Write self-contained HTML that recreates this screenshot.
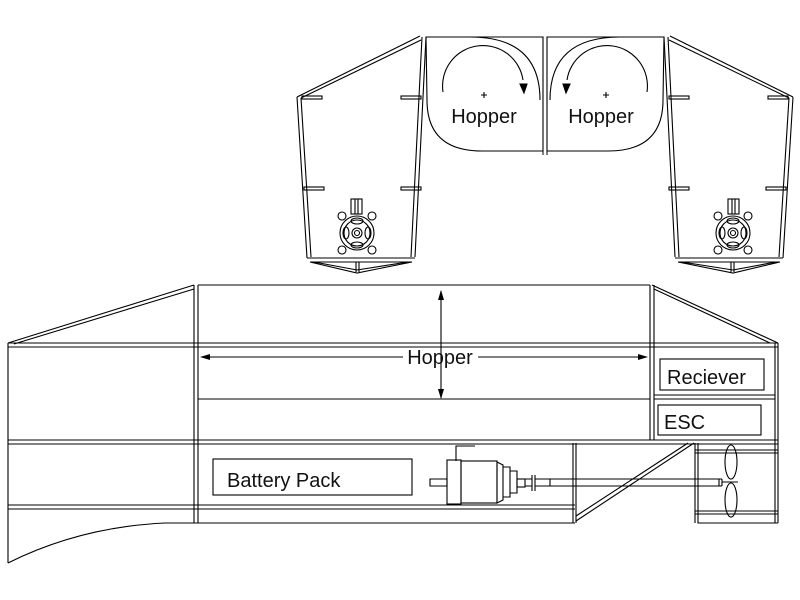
<!DOCTYPE html>
<html><head><meta charset="utf-8"><style>body{margin:0;background:#fff}svg{display:block}text{font-family:"Liberation Sans",sans-serif;fill:#111}</style></head><body>
<svg width="800" height="600" viewBox="0 0 800 600" xmlns="http://www.w3.org/2000/svg">
<defs>
<g id="pod" fill="none" stroke="#000" stroke-width="1.1">
  <path d="M297,97 L420,36 M301,98 L421,40"/>
  <path d="M297,97 L307,258 M301,98 L311,257"/>
  <path d="M422,37 L411,257 M426,37 L415,257"/>
  <path d="M307,258 L415,258 M310,262 L412,262"/>
  <path d="M310,262 L357,273 L412,262 M314,262 L357,270 L408,262"/>
  <path d="M356,262 V272 M359,262 V272"/>
  <rect x="302" y="96" width="20" height="3"/><rect x="401" y="96" width="20" height="3"/>
  <rect x="304" y="187" width="20" height="3"/><rect x="401" y="187" width="20" height="3"/>
  <circle cx="357" cy="233" r="17"/><circle cx="357" cy="233" r="13"/>
  <circle cx="357" cy="233" r="5"/><circle cx="357" cy="233" r="2.5"/>
  <circle cx="342" cy="216" r="4"/><circle cx="372" cy="216" r="4"/><circle cx="342" cy="250" r="4"/><circle cx="372" cy="250" r="4"/>
  <rect x="351" y="199" width="11" height="15"/><path d="M355,199V214M358,199V214"/>
  <ellipse cx="357" cy="221" rx="6" ry="3"/><ellipse cx="357" cy="245" rx="6" ry="3"/>
  <ellipse cx="346" cy="233" rx="3" ry="6"/><ellipse cx="368" cy="233" rx="3" ry="6"/>
  <path d="M426,37 H543 V151 H482 Q427,151 427,100 Z" />
  <path d="M470,37 Q540,37 540,100"/>
  <path d="M443,92 A40,40 0 0 1 523,80"/>
  <path d="M520,84 L527,84 L524,93 Z" fill="#000"/>
  <path d="M481,95 H487 M484,92 V98" />
</g>
</defs>
<use href="#pod"/>
<use href="#pod" transform="translate(1090,0) scale(-1,1)"/>
<path d="M543,37 V155 M547,37 V155" stroke="#000" fill="none"/>
<text x="484" y="123" font-size="20" text-anchor="middle">Hopper</text>
<text x="601" y="123" font-size="20" text-anchor="middle">Hopper</text>

<g fill="none" stroke="#000" stroke-width="1.1">
  <path d="M8,343 L194,285 M14,344 L194,289"/>
  <path d="M8,343 V563"/>
  <path d="M8,563 Q80,527 165,523 H575"/>
  <path d="M194,285 V523 M198,285 V523"/>
  <path d="M198,285 H650"/>
  <path d="M8,343 H778 M8,347 H778"/>
  <path d="M198,399 H650"/>
  <path d="M8,440 H778 M8,444 H778"/>
  <path d="M8,505 H575 M8,509 H575"/>
  <path d="M650,285 V440 M654,285 V440"/>
  <path d="M652,285 L778,343 M654,289 L770,343"/>
  <path d="M654,395 H775 M654,399 H775"/>
  <path d="M775,343 V523 M778,343 V523"/>
  <rect x="660" y="359" width="104" height="31"/>
  <rect x="658" y="405" width="103" height="30"/>
  <rect x="213" y="459" width="199" height="36"/>
  <path d="M573,443 V523 M576,443 V523"/>
  <path d="M576,521 L694,443 M576,516 L688,443"/>
  <path d="M695,443 V523 M698,443 V523 H778 M695,450 H778 M695,453 H778 M695,511 H778 M695,514 H778"/>
  <ellipse cx="731" cy="462" rx="6" ry="17"/><ellipse cx="731" cy="500" rx="6" ry="17"/>
  <path d="M550,479 H722 M550,486 H722 M550,479 V486 M722,479 V486 M719,479V486 M722,482 H738"/>
  <rect x="447" y="460" width="14" height="44"/>
  <rect x="461" y="461" width="36" height="42"/>
  <path d="M497,462 L503,465 V500 L497,503 Z"/>
  <path d="M503,467 H510 V497 H503 M510,471 H517 V493 H510"/>
  <path d="M430,479 H447 V486 H430 Z"/>
  <path d="M456,461 V446 H475"/>
  <rect x="517" y="479" width="8" height="8"/>
  <path d="M525,479 H532 V486 H525 M532,475 V491 M535,475 V491 M535,479 H550 M535,486 H550"/>
  <path d="M441,291 V398"/>
  <path d="M205,357 H403 M478,357 H645"/>
</g>
<path d="M441,290 L438,300 L444,300 Z M441,399 L438,389 L444,389 Z M200,357 L210,354 L210,360 Z M648,357 L638,354 L638,360 Z" fill="#000"/>
<text x="440" y="364" font-size="20" text-anchor="middle">Hopper</text>
<text x="667" y="384" font-size="20">Reciever</text>
<text x="664" y="429" font-size="20">ESC</text>
<text x="227" y="487" font-size="20">Battery Pack</text>
</svg>
</body></html>
